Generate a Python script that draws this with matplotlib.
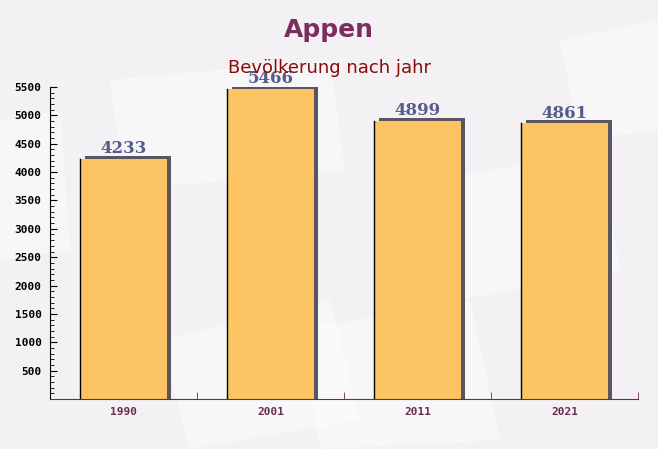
import matplotlib.pyplot as plt
from matplotlib.patches import Polygon
from matplotlib.ticker import MultipleLocator

# data
jahre = ["1990", "2001", "2011", "2021"]
einwohner = [4233, 5466, 4899, 4861]

fig = plt.figure(figsize=(6.58, 4.49), dpi=100)
fig.patch.set_facecolor("#f3f1f3")

# faint envelope shapes in the background
bg = fig.add_axes([0, 0, 1, 1], zorder=-1)
bg.set_xlim(0, 658)
bg.set_ylim(449, 0)
bg.axis("off")
shapes = [
    [(110, 80), (330, 60), (345, 170), (125, 190)],
    [(440, 180), (600, 150), (620, 270), (460, 300)],
    [(160, 340), (330, 300), (360, 420), (190, 449)],
    [(0, 120), (60, 110), (70, 250), (0, 260)],
    [(560, 40), (658, 20), (658, 130), (580, 140)],
    [(300, 330), (470, 300), (500, 440), (320, 449)],
]
for s in shapes:
    bg.add_patch(Polygon(s, closed=True, color="white", alpha=0.45, lw=0))

ax = fig.add_axes([50 / 658, 50 / 449, 588 / 658, 312 / 449])
ax.set_facecolor("none")

x = range(len(jahre))
w = 0.59
# shadow behind the bars
ax.bar([i + 0.03 for i in x], [v + 55 for v in einwohner], width=w,
       color="#5a5560", zorder=1)
ax.bar(x, einwohner, width=w, color="#fcc462", edgecolor="none", zorder=2)
for i, v in zip(x, einwohner):
    ax.plot([i - w / 2, i - w / 2], [0, v], color="black", lw=1, zorder=3)
    ax.text(i, v + 30, str(v), ha="center", va="bottom", fontsize=12,
            fontweight="bold", family="DejaVu Serif", color="#565b8c")

ax.set_xlim(-0.5, len(jahre) - 0.5)
ax.set_ylim(0, 5500)
ax.set_xticks(list(x))
ax.set_xticklabels(jahre)
ax.set_xticks([i + 0.5 for i in range(-1, len(jahre))], minor=True)
ax.set_yticks(range(500, 5501, 500))
ax.yaxis.set_minor_locator(MultipleLocator(100))

for lbl in ax.get_xticklabels():
    lbl.set_family("DejaVu Sans Mono")
    lbl.set_fontweight("bold")
    lbl.set_fontsize(8)
    lbl.set_color("#6b2b50")
for lbl in ax.get_yticklabels():
    lbl.set_family("DejaVu Sans Mono")
    lbl.set_fontweight("bold")
    lbl.set_fontsize(8)
    lbl.set_color("black")

ax.tick_params(axis="x", which="major", length=0, pad=6)
ax.tick_params(axis="x", which="minor", length=5, color="#6b2b50", direction="in")
ax.tick_params(axis="y", which="major", length=5, color="black", direction="in", pad=6)
ax.tick_params(axis="y", which="minor", length=3, color="black", direction="in")

ax.spines["top"].set_visible(False)
ax.spines["right"].set_visible(False)
ax.spines["left"].set_color("black")
ax.spines["bottom"].set_color("#6b2b50")

fig.text(0.5, 1 - 30 / 449, "Appen", ha="center", va="center", fontsize=18,
         fontweight="bold", color="#7a2d5e")
fig.text(0.5, 1 - 68 / 449, "Bevölkerung nach jahr", ha="center", va="center",
         fontsize=13, color="#8b0a0a")

fig.savefig("out.png", dpi=100, facecolor=fig.get_facecolor())
